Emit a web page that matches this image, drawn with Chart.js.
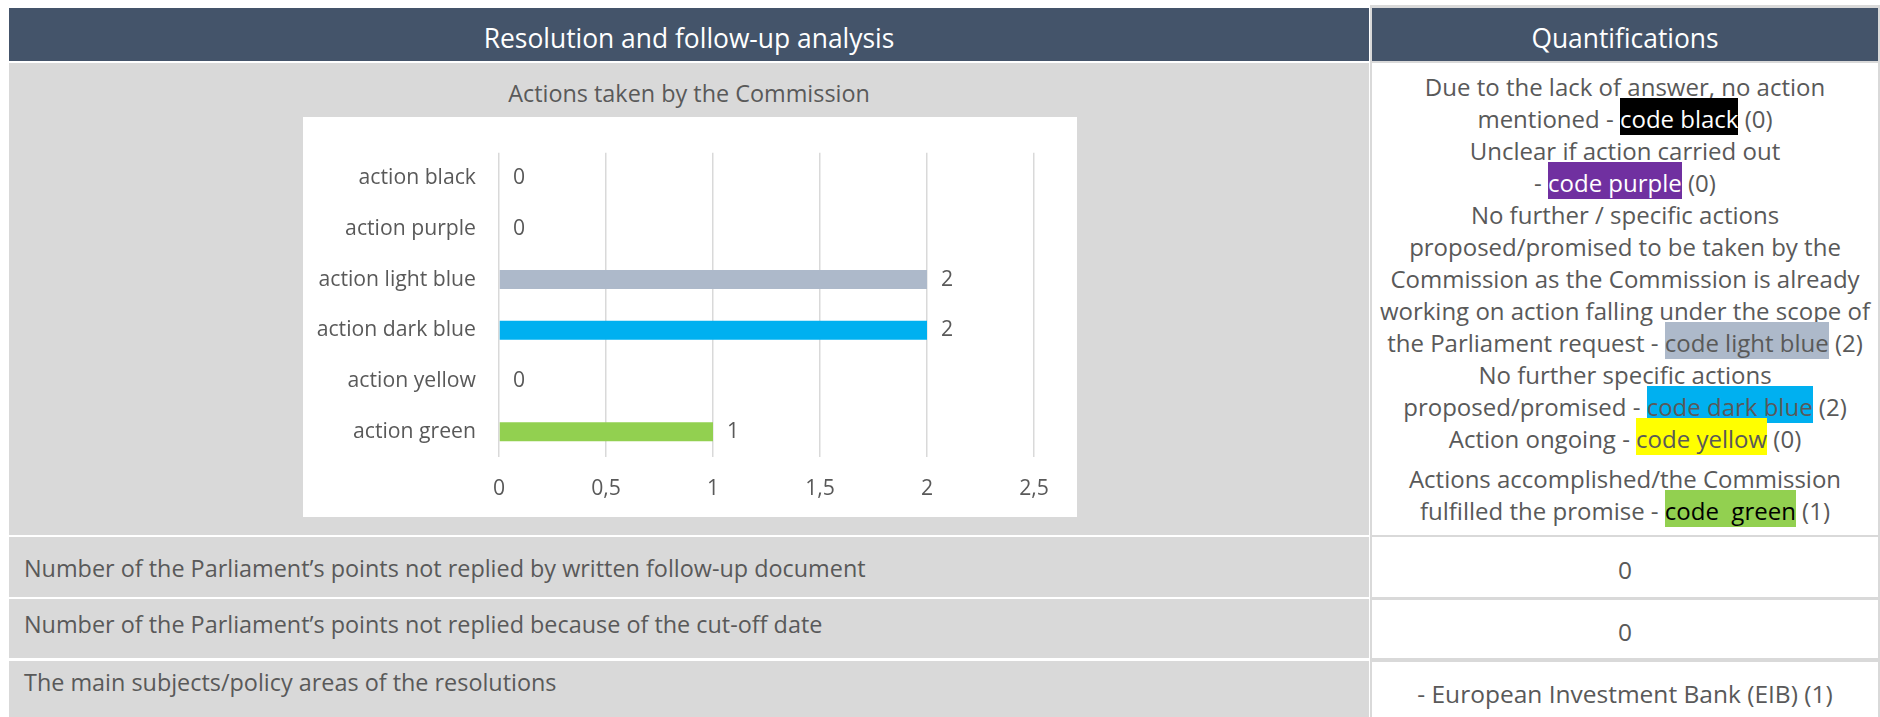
<!DOCTYPE html>
<html>
<head>
<meta charset="utf-8">
<script src="https://cdn.jsdelivr.net/npm/chart.js@4/dist/chart.umd.min.js"></script>
<style>
body {
	margin: 0;
	width: 1880px;
	height: 717px;
	position: relative;
	overflow: hidden;
	background: #fff;
	font-family: "Open Sans", Lato, sans-serif;
	color: #595959;
}
.box { position: absolute; }
.hdr { background: #44546A; }
.gray { background: #D9D9D9; }
.white { background: #fff; }
.txt {
	position: absolute;
	font-size: 23.4px;
	line-height: 28px;
	white-space: nowrap;
}
.center { text-align: center; }
.val { font-size: 24.5px; }
.head-txt {
	color: #fff;
	font-size: 26.4px;
	line-height: 30px;
}
.legend {
	position: absolute;
	left: 1372px;
	top: 71px;
	width: 506px;
	font-size: 24px;
	line-height: 32px;
	text-align: center;
	white-space: nowrap;
}
.legend .gap { margin-top: 8px; }
.mark { padding: 4px 0 0; }
.c-black { background: #000; color: #fff; }
.c-purple { background: #7030A0; color: #fff; }
.c-lightblue { background: #ADB9CA; }
.c-darkblue { background: #00B0F0; }
.c-yellow { background: #FFFF00; }
.c-green { background: #92D050; color: #000; }
#chartBox {
	position: absolute;
	left: 303px;
	top: 117px;
	width: 774px;
	height: 400px;
	background: #fff;
}
</style>
</head>
<body>

<!-- table cells -->
<div class="box hdr" style="left:9px;top:8px;width:1360px;height:53px"></div>
<div class="box gray" style="left:1370px;top:5px;width:510px;height:712px"></div>
<div class="box hdr" style="left:1372px;top:8px;width:506px;height:53px"></div>

<div class="box gray" style="left:9px;top:63px;width:1360px;height:472px"></div>
<div class="box white" style="left:1372px;top:63px;width:506px;height:472px"></div>

<div class="box gray" style="left:9px;top:537px;width:1360px;height:60px"></div>
<div class="box white" style="left:1372px;top:537px;width:506px;height:60px"></div>

<div class="box gray" style="left:9px;top:599px;width:1360px;height:59px"></div>
<div class="box white" style="left:1372px;top:600px;width:506px;height:58px"></div>

<div class="box gray" style="left:9px;top:661px;width:1360px;height:56px"></div>
<div class="box white" style="left:1372px;top:662px;width:506px;height:55px"></div>

<!-- table texts -->
<div class="txt center head-txt" style="left:9px;top:23px;width:1360px">Resolution and follow-up analysis</div>
<div class="txt center head-txt" style="left:1372px;top:23px;width:506px">Quantifications</div>
<div class="txt center" style="left:9px;top:79px;width:1360px">Actions taken by the Commission</div>

<div class="txt" style="left:24px;top:554px">Number of the Parliament’s points not replied by written follow-up document</div>
<div class="txt" style="left:24px;top:610px">Number of the Parliament’s points not replied because of the cut-off date</div>
<div class="txt" style="left:24px;top:668px">The main subjects/policy areas of the resolutions</div>

<div class="txt center val" style="left:1372px;top:556px;width:506px">0</div>
<div class="txt center val" style="left:1372px;top:618px;width:506px">0</div>
<div class="txt center val" style="left:1372px;top:680px;width:506px">- European Investment Bank (EIB) (1)</div>

<div class="legend">
	<div>Due to the lack of answer, no action</div>
	<div>mentioned - <span class="mark c-black">code black</span> (<span class="cnt" data-i="0"></span>)</div>
	<div>Unclear if action carried out</div>
	<div>- <span class="mark c-purple">code purple</span> (<span class="cnt" data-i="1"></span>)</div>
	<div>No further / specific actions</div>
	<div>proposed/promised to be taken by the</div>
	<div>Commission as the Commission is already</div>
	<div>working on action falling under the scope of</div>
	<div>the Parliament request - <span class="mark c-lightblue">code light blue</span> (<span class="cnt" data-i="2"></span>)</div>
	<div>No further specific actions</div>
	<div>proposed/promised - <span class="mark c-darkblue">code dark blue</span> (<span class="cnt" data-i="3"></span>)</div>
	<div>Action ongoing - <span class="mark c-yellow">code yellow</span> (<span class="cnt" data-i="4"></span>)</div>
	<div class="gap">Actions accomplished/the Commission</div>
	<div>fulfilled the promise - <span class="mark c-green">code&nbsp; green</span> (<span class="cnt" data-i="5"></span>)</div>
</div>

<div id="chartBox"><canvas id="actionsChart" width="774" height="400"></canvas></div>

<script>
const categories = ['action black', 'action purple', 'action light blue', 'action dark blue', 'action yellow', 'action green'];
const actionCounts = [0, 0, 2, 2, 0, 1];
const xTickLabels = ['0', '0,5', '1', '1,5', '2', '2,5'];
const xMax = 2.5;
const xStep = 0.5;

const barColors = ['#000000', '#7030A0', '#ADB9CA', '#00B0F0', '#FFFF00', '#92D050'];
const textColor = '#595959';
const chartFont = {family: 'Open Sans', size: 21.2};

// counts shown in the quantifications column
document.querySelectorAll('.cnt').forEach(el => {
	el.textContent = actionCounts[+el.dataset.i];
});

// value written just past the end of each bar
const valueLabels = {
	id: 'valueLabels',
	afterDatasetsDraw(chart) {
		const ctx = chart.ctx;
		const meta = chart.getDatasetMeta(0);
		ctx.save();
		ctx.font = chartFont.size + 'px "' + chartFont.family + '"';
		ctx.fillStyle = textColor;
		ctx.textAlign = 'left';
		ctx.textBaseline = 'middle';
		meta.data.forEach((bar, i) => {
			ctx.fillText(String(actionCounts[i]), bar.x + 14, bar.y);
		});
		ctx.restore();
	}
};

new Chart(document.getElementById('actionsChart'), {
	type: 'bar',
	data: {
		labels: categories,
		datasets: [{
			data: actionCounts,
			backgroundColor: barColors,
			borderWidth: 0,
			inflateAmount: 0,
			barThickness: 19
		}]
	},
	options: {
		indexAxis: 'y',
		responsive: false,
		animation: false,
		devicePixelRatio: 1,
		layout: {
			padding: {top: 28, right: 43, bottom: 0, left: 0}
		},
		plugins: {
			legend: {display: false},
			tooltip: {enabled: false}
		},
		scales: {
			x: {
				min: 0,
				max: xMax,
				border: {display: false},
				grid: {color: '#D9D9D9', lineWidth: 1.5, drawTicks: false},
				ticks: {
					stepSize: xStep,
					padding: 19,
					color: textColor,
					font: chartFont,
					callback: (v, i) => xTickLabels[i]
				},
				afterFit: scale => { scale.height = 60; }
			},
			y: {
				border: {display: false},
				grid: {display: false, drawTicks: false},
				ticks: {
					padding: 23,
					color: textColor,
					font: chartFont
				},
				afterFit: scale => { scale.width = 196; }
			}
		}
	},
	plugins: [valueLabels]
});
</script>
</body>
</html>
